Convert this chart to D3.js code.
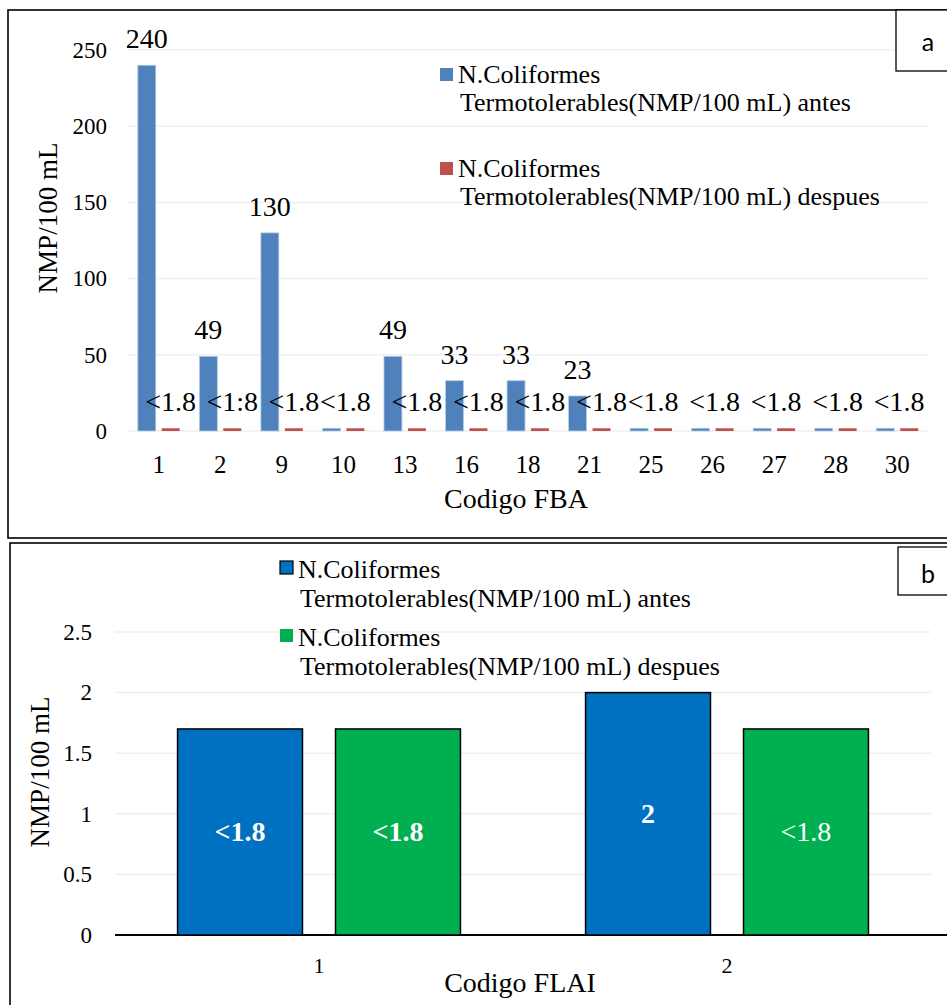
<!DOCTYPE html>
<html>
<head>
<meta charset="utf-8">
<script src="https://cdn.jsdelivr.net/npm/d3@7"></script>
<style>
  body { margin: 0; background: #fff; }
  svg { display: block; }
  svg text { font-family: "Liberation Serif", "Times New Roman", "DejaVu Serif", serif; }
  svg text.tag { font-family: Lato, "Open Sans", sans-serif; }
</style>
</head>
<body>
<svg id="chart" width="947" height="1005"></svg>
<script>
// ---- panel a data (Codigo FBA) ----
const codesA = ["1", "2", "9", "10", "13", "16", "18", "21", "25", "26", "27", "28", "30"];
const antesA = [240, 49, 130, 1.8, 49, 33, 33, 23, 1.8, 1.8, 1.8, 1.8, 1.8];
const despuesA = [1.8, 1.8, 1.8, 1.8, 1.8, 1.8, 1.8, 1.8, 1.8, 1.8, 1.8, 1.8, 1.8];
const antesLabelsA = ["240", "49", "130", null, "49", "33", "33", "23", null, null, null, null, null];
const despuesLabelsA = ["<1.8", "<1:8", "<1.8", "<1.8", "<1.8", "<1.8", "<1.8", "<1.8", "<1.8", "<1.8", "<1.8", "<1.8", "<1.8"];
const ticksA = [0, 50, 100, 150, 200, 250];

// ---- panel b data (Codigo FLAI) ----
const codesB = ["1", "2"];
const antesB = [1.7, 2];
const despuesB = [1.7, 1.7];
const antesLabelsB = ["<1.8", "2"];
const despuesLabelsB = ["<1.8", "<1.8"];
const ticksB = [0, 0.5, 1, 1.5, 2, 2.5];

const seriesNames = ["N.Coliformes|Termotolerables(NMP/100 mL) antes",
                     "N.Coliformes|Termotolerables(NMP/100 mL) despues"];

// label weights in panel b (bold except the last one)
const boldB = { antes: [true, true], despues: [true, false] };

const svg = d3.select("#chart");
const gridColor = "#efefef";
const serif = "'Liberation Serif', 'Times New Roman', serif";

// ---------- frames ----------
svg.append("rect").attr("x", 8).attr("y", 10).attr("width", 960).attr("height", 528)
  .attr("fill", "none").attr("stroke", "#000").attr("stroke-width", 1.6);
svg.append("rect").attr("x", 10).attr("y", 543).attr("width", 960).attr("height", 480)
  .attr("fill", "none").attr("stroke", "#000").attr("stroke-width", 1.6);

// ================= PANEL A =================
const a = svg.append("g");
const xA = d3.scaleBand().domain(codesA).range([128, 928]).padding(0);
const subA = d3.scaleBand().domain(["antes", "despues"]).range([0, xA.bandwidth()])
  .paddingInner(0.25).paddingOuter(0.41);
const yA = d3.scaleLinear().domain([0, 250]).range([431, 50]);

// gridlines
a.append("g").selectAll("line").data(ticksA).join("line")
  .attr("x1", 128).attr("x2", 928)
  .attr("y1", d => yA(d)).attr("y2", d => yA(d))
  .attr("stroke", gridColor).attr("stroke-width", 1.5);

// y axis
const yAxisA = a.append("g").attr("transform", "translate(128,0)")
  .call(d3.axisLeft(yA).tickValues(ticksA).tickSize(0).tickPadding(21).tickFormat(d3.format("d")));
yAxisA.select(".domain").remove();
yAxisA.attr("font-family", null);
yAxisA.selectAll("text").attr("font-size", 23).attr("fill", "#000");

// x axis
const xAxisA = a.append("g").attr("transform", "translate(0,431)")
  .call(d3.axisBottom(xA).tickSize(0).tickPadding(24));
xAxisA.select(".domain").remove();
xAxisA.attr("font-family", null);
xAxisA.selectAll("text").attr("font-size", 25).attr("fill", "#000");

const rowsA = codesA.map((c, i) => ({ code: c, antes: antesA[i], despues: despuesA[i],
  la: antesLabelsA[i], ld: despuesLabelsA[i] }));

const colorA = { antes: "#4f81bd", despues: "#c0504d" };

const groupsA = a.append("g").selectAll("g").data(rowsA).join("g")
  .attr("transform", d => `translate(${xA(d.code)},0)`);

groupsA.selectAll("rect")
  .data(d => ["antes", "despues"].map(k => ({ key: k, value: d[k] })))
  .join("rect")
  .attr("x", d => subA(d.key))
  .attr("y", d => yA(d.value))
  .attr("width", subA.bandwidth())
  .attr("height", d => yA(0) - yA(d.value))
  .attr("fill", d => colorA[d.key])
  .attr("stroke", d => d.key === "antes" ? "#b8cce4" : "none")
  .attr("stroke-width", 0.8);

// data labels above bars
groupsA.filter(d => d.la).append("text")
  .attr("x", subA("antes") + subA.bandwidth() / 2)
  .attr("y", d => yA(d.antes) - 17)
  .attr("text-anchor", "middle").attr("font-size", 28)
  .text(d => d.la);

groupsA.append("text")
  .attr("x", d => d.la ? subA("despues") + subA.bandwidth() / 2 : xA.bandwidth() / 2 + 2)
  .attr("y", d => yA(d.despues) - 17)
  .attr("text-anchor", "middle").attr("font-size", 28)
  .text(d => d.ld);

// axis titles
a.append("text").attr("x", 516).attr("y", 508).attr("text-anchor", "middle")
  .attr("font-size", 28).text("Codigo FBA");
a.append("text").attr("transform", "translate(48,218) rotate(-90)")
  .attr("text-anchor", "middle").attr("dominant-baseline", "central")
  .attr("font-size", 27).text("NMP/100 mL");

// legend a
const legA = a.append("g");
[["antes", 68], ["despues", 162]].forEach(([k, top], i) => {
  legA.append("rect").attr("x", 440).attr("y", top).attr("width", 13).attr("height", 13)
    .attr("fill", colorA[k]);
  const lines = seriesNames[i].split("|");
  legA.append("text").attr("x", 458).attr("y", top + 15).attr("font-size", 26).text(lines[0]);
  legA.append("text").attr("x", 460).attr("y", top + 43).attr("font-size", 26).text(lines[1]);
});

// "a" tag
svg.append("rect").attr("x", 896).attr("y", 10).attr("width", 60).attr("height", 61)
  .attr("fill", "#fff").attr("stroke", "#000").attr("stroke-width", 1.3);
svg.append("text").attr("class", "tag").attr("x", 928).attr("y", 51).attr("text-anchor", "middle")
  .attr("font-size", 25).text("a");

// ================= PANEL B =================
const b = svg.append("g");
const xB = d3.scaleBand().domain(codesB).range([115, 931]).padding(0);
const subB = d3.scaleBand().domain(["antes", "despues"]).range([0, xB.bandwidth()])
  .paddingInner(0.209).paddingOuter(0.396);
const yB = d3.scaleLinear().domain([0, 2.5]).range([935, 632]);

b.append("g").selectAll("line").data(ticksB.slice(1)).join("line")
  .attr("x1", 115).attr("x2", 931)
  .attr("y1", d => yB(d)).attr("y2", d => yB(d))
  .attr("stroke", gridColor).attr("stroke-width", 1.5);

const yAxisB = b.append("g").attr("transform", "translate(115,0)")
  .call(d3.axisLeft(yB).tickValues(ticksB).tickSize(0).tickPadding(23).tickFormat(d => d));
yAxisB.select(".domain").remove();
yAxisB.attr("font-family", null);
yAxisB.selectAll("text").attr("font-size", 23).attr("fill", "#000");

const xAxisB = b.append("g").attr("transform", "translate(0,935)")
  .call(d3.axisBottom(xB).tickSize(0).tickPadding(22));
xAxisB.select(".domain").attr("stroke", "#000").attr("stroke-width", 2).attr("d", "M115,0H947");
xAxisB.attr("font-family", null);
xAxisB.selectAll("text").attr("font-size", 22).attr("fill", "#000");

const colorB = { antes: "#0070c0", despues: "#00b050" };
const rowsB = codesB.map((c, i) => ({ code: c, i: i, antes: antesB[i], despues: despuesB[i],
  la: antesLabelsB[i], ld: despuesLabelsB[i] }));

const groupsB = b.append("g").selectAll("g").data(rowsB).join("g")
  .attr("transform", d => `translate(${xB(d.code)},0)`);

const barsB = groupsB.selectAll("g")
  .data(d => ["antes", "despues"].map(k => ({ key: k, value: d[k], label: k === "antes" ? d.la : d.ld,
    bold: boldB[k][d.i] })))
  .join("g");

barsB.append("rect")
  .attr("x", d => subB(d.key))
  .attr("y", d => yB(d.value))
  .attr("width", subB.bandwidth())
  .attr("height", d => yB(0) - yB(d.value))
  .attr("fill", d => colorB[d.key])
  .attr("stroke", "#000").attr("stroke-width", 1.5);

barsB.append("text")
  .attr("x", d => subB(d.key) + subB.bandwidth() / 2)
  .attr("y", d => yB(d.value / 2))
  .attr("dominant-baseline", "central")
  .attr("text-anchor", "middle").attr("font-size", 28)
  .attr("font-weight", d => d.bold ? "bold" : "normal")
  .attr("fill", "#fff")
  .text(d => d.label);

b.append("text").attr("x", 520).attr("y", 992).attr("text-anchor", "middle")
  .attr("font-size", 28).text("Codigo FLAI");
b.append("text").attr("transform", "translate(40,772) rotate(-90)")
  .attr("text-anchor", "middle").attr("dominant-baseline", "central")
  .attr("font-size", 27).text("NMP/100 mL");

// legend b
const legB = b.append("g");
[["antes", 561], ["despues", 629]].forEach(([k, top], i) => {
  legB.append("rect").attr("x", 280).attr("y", top).attr("width", 13).attr("height", 13)
    .attr("fill", colorB[k]).attr("stroke", k === "antes" ? "#000" : "none").attr("stroke-width", 1.2);
  const lines = seriesNames[i].split("|");
  legB.append("text").attr("x", 298).attr("y", top + 17).attr("font-size", 26).text(lines[0]);
  legB.append("text").attr("x", 300).attr("y", top + 46).attr("font-size", 26).text(lines[1]);
});

svg.append("rect").attr("x", 898).attr("y", 547).attr("width", 60).attr("height", 48)
  .attr("fill", "#fff").attr("stroke", "#000").attr("stroke-width", 1.3);
svg.append("text").attr("class", "tag").attr("x", 928).attr("y", 583).attr("text-anchor", "middle")
  .attr("font-size", 25).text("b");

// make sure the serif face is used everywhere except the tags
svg.selectAll("text:not(.tag)").attr("font-family", serif);
</script>
</body>
</html>
